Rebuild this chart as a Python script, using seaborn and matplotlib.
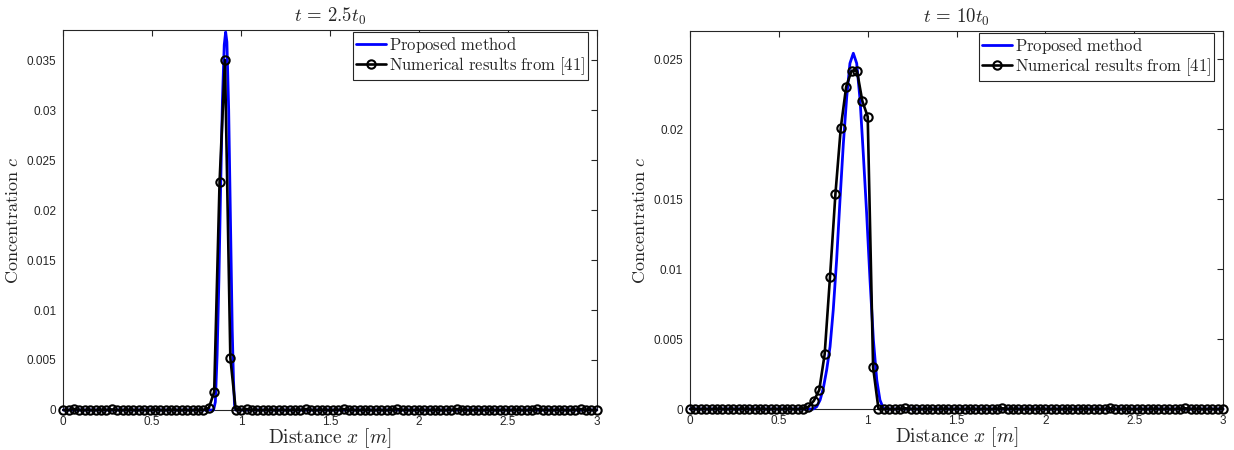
import numpy as np
import pandas as pd
import matplotlib
matplotlib.use("Agg")
import matplotlib.pyplot as plt
import seaborn as sns
from matplotlib.ticker import FuncFormatter

# ---- data -------------------------------------------------------------
# reference solution: 100 samples evenly spaced over the 3 m domain
n_ref = 100
x_ref = np.linspace(0.0, 3.0, n_ref)

# non-zero reference values, keyed by sample index
ref_peak_t25 = {27: 0.0002, 28: 0.0018, 29: 0.0228, 30: 0.0350, 31: 0.0052, 32: 0.0}
ref_peak_t10 = {22: 0.00016, 23: 0.00059, 24: 0.00136, 25: 0.00391, 26: 0.00945,
                27: 0.01534, 28: 0.02009, 29: 0.02302, 30: 0.02416, 31: 0.02416,
                32: 0.02200, 33: 0.02088, 34: 0.00298, 35: 0.0}
# tiny baseline wiggles of the reference solution
ref_base_t25 = {2: 0.0001, 9: 0.00005, 34: 0.0001, 45: 0.0001, 52: 0.0001,
                62: 0.0001, 73: 0.0001, 88: 0.0001, 96: 0.0001}
ref_base_t10 = {40: 0.00005, 58: 0.00005, 78: 0.00005, 92: 0.00005}

# proposed method, t = 2.5 t0
x_prop_t25 = [0.0, 0.845, 0.855, 0.865, 0.875, 0.885, 0.895, 0.905, 0.913,
              0.920, 0.930, 0.940, 0.950, 0.957, 0.963, 0.970, 3.0]
c_prop_t25 = [0.0, 0.0, 0.0008, 0.0055, 0.0130, 0.0225, 0.0310, 0.0365, 0.0378,
              0.0368, 0.0300, 0.0190, 0.0080, 0.0030, 0.0005, 0.0, 0.0]

# proposed method, t = 10 t0
x_prop_t10 = [0.0, 0.694, 0.713, 0.732, 0.750, 0.769, 0.788, 0.806, 0.825, 0.844,
              0.863, 0.882, 0.900, 0.919, 0.938, 0.957, 0.975, 0.994, 1.013,
              1.032, 1.051, 1.069, 1.088, 1.100, 3.0]
c_prop_t10 = [0.0, 0.0, 0.00017, 0.00064, 0.00148, 0.00279, 0.00445, 0.00707,
              0.01064, 0.01493, 0.01898, 0.02231, 0.02469, 0.02541, 0.02469,
              0.02207, 0.01826, 0.01398, 0.00921, 0.00493, 0.00207, 0.00064,
              0.00005, 0.0, 0.0]

titles = [r"$t\,=\,2.5t_0$", r"$t\,=\,10t_0$"]
legend_labels = [r"$\mathrm{Proposed\ method}$", r"$\mathrm{Numerical\ results\ from\ [41]}$"]
x_ticks = [0, 0.5, 1, 1.5, 2, 2.5, 3]
y_ticks_t25 = [0, 0.005, 0.01, 0.015, 0.02, 0.025, 0.03, 0.035]
y_ticks_t10 = [0, 0.005, 0.01, 0.015, 0.02, 0.025]


def ref_series(peak, base):
    c = np.zeros(n_ref)
    for i, v in base.items():
        c[i] = v
    for i, v in peak.items():
        c[i] = v
    return c


# ---- style ------------------------------------------------------------
sns.set_theme(style="white")
plt.rcParams["font.family"] = ["Liberation Sans", "DejaVu Sans"]
plt.rcParams["mathtext.fontset"] = "cm"

fig = plt.figure(figsize=(12.34, 4.5), dpi=100)
ax_l = fig.add_axes([0.0513, 0.0889, 0.4323, 0.8444])
ax_r = fig.add_axes([0.5592, 0.0911, 0.4319, 0.8400])

panels = [
    (ax_l, x_prop_t25, c_prop_t25, ref_series(ref_peak_t25, ref_base_t25), y_ticks_t25, 0.038, titles[0]),
    (ax_r, x_prop_t10, c_prop_t10, ref_series(ref_peak_t10, ref_base_t10), y_ticks_t10, 0.027, titles[1]),
]

axis_grey = "#262626"
fmt = FuncFormatter(lambda v, p: f"{v:g}")

for ax, xp, cp, cref, yt, ytop, title in panels:
    df_prop = pd.DataFrame({"x": xp, "c": cp})
    df_ref = pd.DataFrame({"x": x_ref, "c": cref})
    sns.lineplot(data=df_prop, x="x", y="c", ax=ax, color=(0, 0, 1), lw=2.0,
                 sort=False, estimator=None, label=legend_labels[0], zorder=2,
                 clip_on=False)
    sns.lineplot(data=df_ref, x="x", y="c", ax=ax, color="black", lw=1.9,
                 marker="o", markersize=6.0, markerfacecolor="none",
                 markeredgecolor="black", markeredgewidth=1.5,
                 sort=False, estimator=None, label=legend_labels[1], zorder=3,
                 clip_on=False)

    ax.set_xlim(0, 3)
    ax.set_ylim(0, ytop)
    ax.set_xticks(x_ticks)
    ax.set_yticks(yt)
    ax.xaxis.set_major_formatter(fmt)
    ax.yaxis.set_major_formatter(fmt)
    ax.tick_params(direction="in", length=4, width=0.8, top=True, right=True,
                   labelsize=8.5, colors=axis_grey)
    ax.tick_params(axis="x", pad=4)
    ax.tick_params(axis="y", pad=5)
    ax.tick_params(labelcolor=axis_grey)
    for s in ax.spines.values():
        s.set_visible(True)
        s.set_color(axis_grey)
        s.set_linewidth(0.8)
        s.set_zorder(1)

    ax.set_xlabel(r"$\mathrm{Distance}\ x\ [m]$", fontsize=14, labelpad=-1)
    ax.set_ylabel(r"$\mathrm{Concentration}\ c$", fontsize=13.0, labelpad=3)
    ax.set_title(title, fontsize=13.5, pad=6)

    leg = ax.legend(loc="upper right", bbox_to_anchor=(0.984, 0.995),
                    borderaxespad=0, frameon=True, fancybox=False,
                    fontsize=12, handlelength=1.8, handletextpad=0.15,
                    borderpad=0.2, labelspacing=0.0)
    leg.get_frame().set_edgecolor(axis_grey)
    leg.get_frame().set_linewidth(0.8)
    leg.get_frame().set_alpha(1.0)
    leg.set_zorder(5)

fig.savefig("out.png", dpi=100)
